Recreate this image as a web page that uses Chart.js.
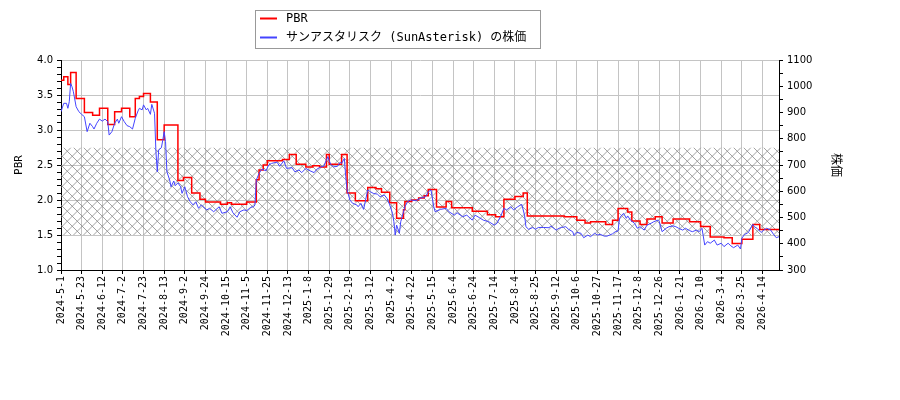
<!DOCTYPE html>
<html>
<head>
<meta charset="utf-8">
<script src="https://cdn.jsdelivr.net/npm/chart.js@4.4.1/dist/chart.umd.min.js"></script>
<style>
  body { margin: 0; background: #fff; }
  canvas { display: block; }
</style>
</head>
<body>
<canvas id="pbrChart" width="900" height="400"></canvas>
<script>
// tick labels, one every 15 trading days
const dateLabels = ['2024-5-1', '2024-5-23', '2024-6-12', '2024-7-2', '2024-7-23', '2024-8-13', '2024-9-2',
  '2024-9-24', '2024-10-15', '2024-11-5', '2024-11-25', '2024-12-13', '2025-1-8', '2025-1-29', '2025-2-19',
  '2025-3-12', '2025-4-2', '2025-4-22', '2025-5-15', '2025-6-4', '2025-6-24', '2025-7-14', '2025-8-4',
  '2025-8-25', '2025-9-12', '2025-10-6', '2025-10-27', '2025-11-17', '2025-12-8', '2025-12-26', '2026-1-21',
  '2026-2-10', '2026-3-4', '2026-3-25', '2026-4-14'];
const lastDay = 522;

// PBR: trading day where the value changes, and the new value
const pbrDays = [0, 2, 5, 7, 11, 17, 23, 28, 34, 39, 44, 50, 54, 57, 60, 65, 70, 75, 85, 89,
  95, 101, 105, 116, 121, 124, 135, 142, 144, 147, 150, 161, 166, 171, 178, 183, 188, 193, 195, 204,
  208, 214, 223, 229, 233, 239, 244, 249, 250, 255, 260, 264, 267, 273, 280, 284, 299, 310, 316, 322,
  330, 336, 339, 366, 375, 381, 385, 396, 401, 405, 412, 415, 421, 426, 432, 437, 445, 457, 465, 472,
  482, 488, 495, 503, 508, 522];
const pbrValues = [3.71, 3.76, 3.65, 3.82, 3.45, 3.25, 3.21, 3.31, 3.08, 3.26, 3.31, 3.19, 3.45, 3.48, 3.52, 3.40, 2.86, 3.07, 2.28, 2.32,
  2.10, 2.01, 1.97, 1.94, 1.96, 1.94, 1.97, 2.29, 2.43, 2.50, 2.56, 2.58, 2.65, 2.51, 2.47, 2.49, 2.47, 2.65, 2.51, 2.65,
  2.10, 1.99, 2.18, 2.16, 2.11, 1.96, 1.74, 1.86, 1.98, 2.00, 2.03, 2.06, 2.15, 1.90, 1.98, 1.89, 1.84, 1.79, 1.76, 2.01,
  2.05, 2.10, 1.77, 1.76, 1.71, 1.67, 1.69, 1.65, 1.71, 1.88, 1.83, 1.70, 1.65, 1.73, 1.76, 1.67, 1.73, 1.69, 1.62, 1.47,
  1.46, 1.38, 1.44, 1.65, 1.58, 1.58];

// share price (yen)
const priceDays = [0, 2, 4, 5, 6, 7, 8, 9, 11, 13, 15, 17, 19, 21, 23, 24, 26, 28, 30, 32,
  34, 35, 37, 39, 41, 42, 44, 46, 48, 50, 52, 54, 56, 57, 59, 60, 62, 63, 65, 66,
  68, 69, 70, 71, 73, 74, 75, 76, 77, 79, 80, 82, 83, 85, 87, 88, 90, 92, 94, 96,
  98, 100, 102, 106, 108, 111, 115, 117, 121, 123, 125, 128, 130, 133, 135, 138, 140, 141, 142, 144,
  146, 149, 151, 153, 157, 159, 162, 164, 168, 170, 173, 175, 178, 181, 184, 186, 189, 191, 194, 196,
  198, 201, 203, 204, 206, 207, 208, 210, 212, 215, 216, 218, 220, 223, 225, 227, 230, 232, 235, 237,
  239, 241, 242, 243, 244, 246, 247, 248, 250, 252, 254, 258, 261, 265, 267, 269, 271, 272, 276, 280,
  282, 286, 288, 292, 295, 299, 301, 304, 307, 311, 315, 317, 320, 322, 324, 327, 329, 332, 335, 337,
  338, 340, 343, 345, 347, 351, 355, 356, 360, 362, 364, 367, 369, 372, 373, 375, 378, 380, 383, 385,
  388, 390, 392, 395, 397, 401, 403, 405, 406, 407, 409, 411, 412, 414, 417, 419, 421, 424, 426, 429,
  431, 434, 435, 437, 440, 442, 445, 447, 449, 452, 454, 457, 459, 462, 464, 466, 468, 470, 472, 475,
  477, 480, 482, 485, 487, 489, 492, 494, 495, 497, 499, 500, 503, 504, 506, 509, 511, 513, 516, 518,
  520, 522];
const priceValues = [903, 935, 935, 916, 941, 1011, 998, 979, 922, 903, 893, 884, 827, 859, 846, 837, 859, 875, 867, 875,
  865, 814, 827, 859, 875, 859, 884, 865, 850, 846, 837, 878, 906, 916, 910, 929, 910, 916, 893, 931,
  897, 751, 674, 757, 766, 795, 827, 789, 674, 643, 617, 639, 621, 632, 617, 592, 617, 579, 560, 548,
  560, 535, 548, 529, 535, 522, 541, 516, 522, 541, 518, 501, 522, 529, 526, 539, 541, 548, 643, 668,
  684, 678, 700, 706, 711, 695, 716, 687, 690, 674, 681, 671, 687, 678, 671, 684, 693, 695, 732, 703,
  693, 695, 711, 706, 725, 656, 605, 567, 554, 548, 541, 554, 531, 605, 598, 592, 589, 579, 586, 573,
  548, 516, 484, 433, 471, 440, 484, 503, 541, 560, 567, 564, 573, 579, 598, 605, 541, 522, 531, 535,
  522, 509, 518, 503, 509, 490, 509, 500, 490, 484, 471, 478, 509, 535, 529, 541, 529, 541, 550, 509,
  465, 455, 462, 455, 462, 462, 461, 468, 452, 459, 462, 465, 455, 446, 431, 443, 440, 423, 433, 427,
  440, 433, 436, 429, 429, 438, 446, 449, 495, 505, 516, 497, 506, 490, 478, 459, 465, 452, 471, 478,
  484, 490, 484, 446, 459, 465, 468, 465, 459, 452, 459, 450, 446, 452, 446, 459, 395, 408, 402, 414,
  395, 402, 389, 402, 392, 385, 395, 380, 421, 436, 440, 446, 474, 465, 459, 443, 452, 459, 452, 436,
  423, 427];

// PBR band shown hatched
const bandLow = 1.5;
const bandHigh = 2.75;

const gridColor = '#c4c4c4';
const tickFont = { family: 'DejaVu Sans', size: 10 };
const monoFont = '"DejaVu Sans Mono", "Noto Sans CJK JP"';

const hatchBand = {
  id: 'hatchBand',
  beforeDatasetsDraw(chart) {
    const { ctx, chartArea: a, scales: { y } } = chart;
    const top = y.getPixelForValue(bandHigh);
    const bottom = y.getPixelForValue(bandLow);
    const h = bottom - top;
    ctx.save();
    ctx.beginPath();
    ctx.rect(a.left, top, a.right - a.left, h);
    ctx.clip();
    ctx.strokeStyle = '#8a8a8a';
    ctx.lineWidth = 0.8;
    ctx.beginPath();
    for (let x = a.left - h; x < a.right + h; x += 10) {
      ctx.moveTo(x, top);
      ctx.lineTo(x + h, bottom);
      ctx.moveTo(x, bottom);
      ctx.lineTo(x + h, top);
    }
    ctx.stroke();
    ctx.restore();
  }
};

// legend in a framed box, entries stacked
const boxLegend = {
  id: 'boxLegend',
  afterDraw(chart) {
    const ctx = chart.ctx;
    ctx.save();
    ctx.fillStyle = 'rgba(255,255,255,0.85)';
    ctx.fillRect(255, 10, 285, 38);
    ctx.strokeStyle = '#999';
    ctx.lineWidth = 1;
    ctx.strokeRect(255.5, 10.5, 285, 38);
    ctx.font = '12px ' + monoFont;
    ctx.textBaseline = 'middle';
    chart.data.datasets.forEach((ds, i) => {
      const yy = 18.5 + i * 19;
      ctx.strokeStyle = ds.borderColor;
      ctx.lineWidth = 2;
      ctx.beginPath();
      ctx.moveTo(260, yy);
      ctx.lineTo(277, yy);
      ctx.stroke();
      ctx.fillStyle = '#000';
      ctx.fillText(ds.label, 286, yy);
    });
    ctx.restore();
  }
};

const ctx = document.getElementById('pbrChart').getContext('2d');
const pbrChart = new Chart(ctx, {
  type: 'line',
  data: {
    datasets: [{
      label: 'PBR',
      data: pbrDays.map((d, i) => ({ x: d, y: pbrValues[i] })),
      yAxisID: 'y',
      borderColor: '#ff0000',
      borderWidth: 1.5,
      stepped: 'before',
      pointRadius: 0,
      order: 2
    }, {
      label: 'サンアスタリスク (SunAsterisk) の株価',
      data: priceDays.map((d, i) => ({ x: d, y: priceValues[i] })),
      yAxisID: 'y1',
      borderColor: '#4444ff',
      borderWidth: 1,
      pointRadius: 0,
      tension: 0,
      order: 1
    }]
  },
  options: {
    responsive: false,
    animation: false,
    layout: { padding: { top: 60, left: 0, right: 0, bottom: 0 } },
    plugins: {
      legend: { display: false },
      tooltip: { enabled: false }
    },
    scales: {
      x: {
        type: 'linear',
        min: 0,
        max: lastDay,
        afterFit: s => { s.height = 130; },
        border: { color: '#000' },
        grid: { color: gridColor, tickColor: '#000', tickLength: 4 },
        ticks: {
          stepSize: 15,
          includeBounds: false,
          autoSkip: false,
          minRotation: 90,
          maxRotation: 90,
          padding: 2,
          color: '#000',
          font: { family: monoFont, size: 10 },
          callback: v => dateLabels[Math.round(v / 15)] ?? ''
        }
      },
      y: {
        position: 'left',
        min: 1,
        max: 4,
        afterFit: s => { s.width = 61; },
        border: { color: '#000' },
        grid: {
          color: c => Math.round(c.tick.value * 10) % 5 === 0 ? gridColor : 'rgba(0,0,0,0)',
          tickColor: '#000',
          tickLength: 4
        },
        ticks: {
          stepSize: 0.1,
          autoSkip: false,
          padding: 4,
          color: '#000',
          font: tickFont,
          callback: v => Math.round(v * 10) % 5 === 0 ? v.toFixed(1) : ''
        },
        title: {
          display: true,
          text: 'PBR',
          color: '#000',
          font: { family: monoFont, size: 11 },
          padding: { top: 13 }
        }
      },
      y1: {
        position: 'right',
        min: 300,
        max: 1100,
        afterFit: s => { s.width = 121; },
        border: { color: '#000' },
        grid: { drawOnChartArea: false, tickColor: '#000', tickLength: 4 },
        ticks: {
          stepSize: 50,
          autoSkip: false,
          padding: 4,
          color: '#000',
          font: tickFont,
          callback: v => v % 100 === 0 ? String(v) : ''
        },
        title: {
          display: true,
          text: '株価',
          color: '#000',
          font: { family: monoFont, size: 12 },
          padding: { top: 58 }
        }
      }
    }
  },
  plugins: [hatchBand, boxLegend]
});
</script>
</body>
</html>
